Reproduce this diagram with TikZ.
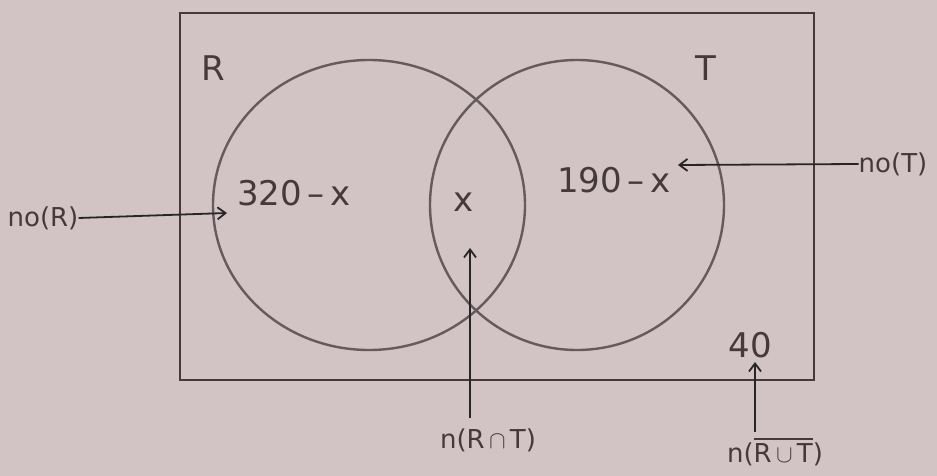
\documentclass[tikz,border=0pt]{standalone}
\usepackage{fontspec}
\setmainfont{DejaVu Sans}
\usetikzlibrary{shapes.geometric,arrows.meta}
\definecolor{paper}{HTML}{D2C3C5}
\definecolor{pencil}{HTML}{45393C}
\definecolor{circ}{HTML}{655A5D}
\newcommand{\barover}[1]{\setbox0\hbox{#1}\rlap{\rule[0.88em]{\wd0}{1.6pt}}\box0}
\begin{document}
\begin{tikzpicture}[x=1pt,y=-1pt,
  lbl/.style={font=\fontsize{34}{38}\selectfont, text=pencil, inner sep=0pt},
  sm/.style={font=\fontsize{26}{30}\selectfont, text=pencil, inner sep=0pt},
  setc/.style={draw=circ, line width=2.4pt, ellipse, inner sep=0pt},
  ptr/.style={draw=black!85, line width=1.8pt, -{Straight Barb[length=8pt,width=12pt]}}]
\fill[paper] (0,0) rectangle (937,476);
\useasboundingbox (0,0) rectangle (937,476);
% universe
\node[draw=pencil, line width=2.2pt, minimum width=634pt, minimum height=367pt, inner sep=0pt] (U) at (497,196.5) {};
% sets
\node[setc, minimum width=312pt, minimum height=290pt] (Rc) at (369,205) {};
\node[setc, minimum width=294pt, minimum height=290pt] (Tc) at (577,205) {};
% set names
\node[lbl] (Rn) at (213,68) {R};
\node[lbl] (Tn) at (706,68) {T};
% region values
\node[lbl] (vR) at (294,193) {320\,–\,x};
\node[lbl] (vI) at (464,202) {x};
\node[lbl] (vT) at (614,180) {190\,–\,x};
\node[lbl] (vO) at (750,345) {40};
% outside labels
\node[sm] (noR) at (43,218) {no(R)};
\node[sm] (noT) at (893,164) {no(T)};
\node[sm] (nI) at (488,440) {n(R\,$\cap$\,T)};
\node[sm] (nO) at (775,452) {n(\barover{R\,$\cup$\,T})};
% arrow targets
\coordinate (aR) at (227,213);
\coordinate (aT) at (678,165);
\coordinate (aI) at (470,248);
\coordinate (aO) at (755,362);
\draw[ptr] (noR.east) -- (aR);
\draw[ptr] (noT.west) -- (aT);
\draw[ptr] (nI.north -| aI) ++(0,-10) -- (aI);
\draw[ptr] (nO.north -| aO) ++(0,-6) -- (aO);
\end{tikzpicture}
\end{document}
